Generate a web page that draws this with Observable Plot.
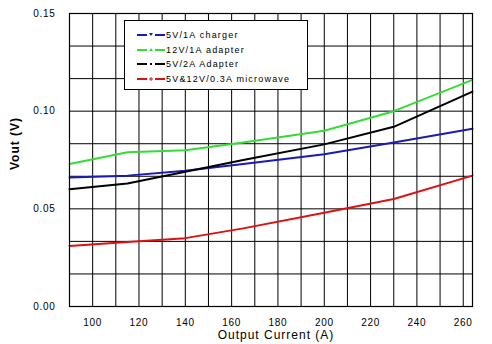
<!DOCTYPE html>
<html>
<head>
<meta charset="utf-8">
<script src="https://cdn.jsdelivr.net/npm/d3@7"></script>
<script src="https://cdn.jsdelivr.net/npm/@observablehq/plot@0.6"></script>
<style>
  body { margin: 0; background: #fff; }
  #wrap { position: relative; width: 492px; height: 344px; font-family: "Liberation Sans", Arial, sans-serif; }
  #legend { position: absolute; left: 124px; top: 20px; width: 182px; height: 68px; background: #fff; border: 1px solid #000; box-sizing: content-box; }
  .entry { position: absolute; left: 12px; height: 14px; display: flex; align-items: center; font-size: 9px; letter-spacing: 1.2px; color: #000; white-space: nowrap; }
  .entry svg { margin-right: 1px; }
</style>
</head>
<body>
<div id="wrap"></div>
<script>
const currents = [90, 115, 140, 165, 200, 230, 264];
const seriesNames = ["5V/1A charger", "12V/1A adapter", "5V/2A Adapter", "5V&12V/0.3A microwave"];
const blueVals  = [0.066, 0.067, 0.0695, 0.073, 0.078, 0.084, 0.091];
const greenVals = [0.073, 0.079, 0.080, 0.084, 0.090, 0.100, 0.116];
const blackVals = [0.060, 0.063, 0.069, 0.075, 0.083, 0.092, 0.110];
const redVals   = [0.031, 0.033, 0.035, 0.040, 0.048, 0.055, 0.067];
const seriesColors = ["#1a1ab4", "#33dd33", "#000000", "#dd1111"];
const markerKinds = ["down", "up", "dot", "plus"];
const xTicks = [100, 120, 140, 160, 180, 200, 220, 240, 260];
const yTicks = [0, 0.05, 0.10, 0.15];
const xTitle = "Output Current (A)";
const yTitle = "Vout (V)";

const valueSets = [blueVals, greenVals, blackVals, redVals];
const data = [];
seriesNames.forEach((s, i) => currents.forEach((c, j) => data.push({series: s, current: c, v: valueSets[i][j]})));

const chart = Plot.plot({
  width: 492, height: 344,
  marginLeft: 69, marginRight: 20, marginTop: 13, marginBottom: 38,
  style: {fontFamily: "Liberation Sans, Arial, sans-serif", fontSize: "10px", color: "#000", background: "#fff"},
  x: {domain: [90, 264]},
  y: {domain: [0, 0.15]},
  color: {domain: seriesNames, range: seriesColors},
  marks: [
    Plot.gridX(d3.range(100, 261, 10), {stroke: "#000", strokeOpacity: 1, strokeWidth: 1}),
    Plot.gridY(d3.range(1, 9).map(k => k * 0.05 / 3), {stroke: "#000", strokeOpacity: 1, strokeWidth: 1}),
    Plot.axisX(xTicks, {tickSize: 0, tickPadding: 12, fontSize: 10, label: null}),
    Plot.axisY(yTicks, {tickSize: 0, tickPadding: 14, fontSize: 10, tickFormat: d => d.toFixed(2), label: null}),
    Plot.line(data, {x: "current", y: "v", z: "series", stroke: "series", strokeWidth: 2}),
    Plot.frame({stroke: "#000", strokeWidth: 1.2}),
    Plot.text([xTitle], {frameAnchor: "bottom", dy: 32, dx: 5, fontSize: 12}),
    Plot.text([yTitle], {frameAnchor: "left", dx: -54, dy: 10, rotate: -90, fontSize: 12, fontWeight: "bold"})
  ]
});

const svgSel = d3.select(chart);
svgSel.selectAll("g[aria-label='x-axis tick label'] text, g[aria-label='y-axis tick label'] text").style("letter-spacing", "0.7px");
svgSel.selectAll("text").filter(function() { return this.textContent === xTitle || this.textContent === yTitle; }).style("letter-spacing", "1px");

const wrap = document.getElementById("wrap");
wrap.appendChild(chart);

const legend = document.createElement("div");
legend.id = "legend";
wrap.appendChild(legend);
seriesNames.forEach((name, i) => {
  const e = document.createElement("div");
  e.className = "entry";
  e.style.top = (7 + i * 14.5) + "px";
  const c = seriesColors[i];
  let mk = "";
  if (markerKinds[i] === "down") mk = `<path d="M12,5 L16,5 L14,8 Z" fill="${c}"/>`;
  else if (markerKinds[i] === "up") mk = `<path d="M12,8 L16,8 L14,5 Z" fill="${c}"/>`;
  else if (markerKinds[i] === "dot") mk = `<rect x="13" y="6" width="2" height="2" fill="${c}"/>`;
  else mk = `<path d="M14,5 V9 M12,7 H16" stroke="${c}" stroke-width="1"/>`;
  e.innerHTML = `<svg width="28" height="14"><line x1="0" x2="10" y1="7" y2="7" stroke="${c}" stroke-width="2"/><line x1="18" x2="28" y1="7" y2="7" stroke="${c}" stroke-width="2"/>${mk}</svg><span>${name}</span>`;
  legend.appendChild(e);
});
</script>
</body>
</html>
